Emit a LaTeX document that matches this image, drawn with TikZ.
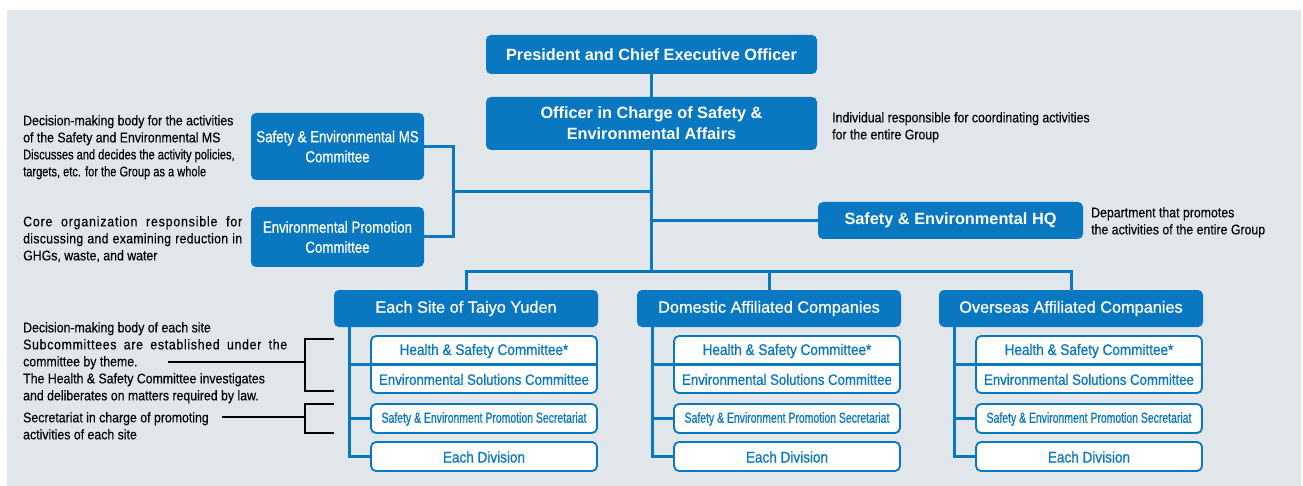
\documentclass[tikz,border=0pt]{standalone}
\usepackage{fontspec}
\setmainfont{Liberation Sans}
\newfontfamily\annA{Liberation Sans}[FakeStretch=0.88,FakeBold=0.3]
\newfontfamily\annB{Liberation Sans}[FakeStretch=0.79,FakeBold=0.3]
\newfontfamily\subA{Liberation Sans}[FakeStretch=0.88,FakeBold=0.8]
\newfontfamily\subB{Liberation Sans}[FakeStretch=0.72,FakeBold=0.8]
\newfontfamily\lboxf{Liberation Sans}[FakeStretch=0.83,FakeBold=0.7]
\newfontfamily\headf{Liberation Sans}[FakeBold=0.8]
\definecolor{tyblue}{HTML}{0A77C1}
\definecolor{bggray}{HTML}{E1E6EA}
\tikzset{
  bluebox/.style={fill=tyblue, rounded corners=5pt, text=white, inner sep=0pt, align=center},
  titlebox/.style={bluebox, font=\bfseries\fontsize{16.3}{21}\selectfont},
  colhead/.style={bluebox, font=\headf\fontsize{16.3}{20}\selectfont},
  leftbox/.style={bluebox, font=\lboxf\fontsize{16}{20}\selectfont},
  subbox/.style={draw=tyblue, line width=1.8pt, fill=white, rounded corners=5pt, inner sep=0pt, minimum width=226pt},
  subtext/.style={text=tyblue, inner sep=0pt, font=\subA\fontsize{15.4}{18}\selectfont},
  conn/.style={draw=tyblue, line width=3pt},
  spine/.style={draw=tyblue, line width=2.4pt},
  brk/.style={draw=black, line width=1.1pt},
  annot/.style={inner sep=0pt, align=left, anchor=north west, text=black, font=\annA\fontsize{14}{17}\selectfont}
}
\begin{document}
\begin{tikzpicture}[x=1pt,y=-1pt]
\useasboundingbox (0,0) rectangle (1303,486);
\fill[bggray] (7,10) rectangle (1301,486);

% main boxes
\node[titlebox, minimum width=331pt, minimum height=39pt] (pres) at (651.5,54.5) {President and Chief Executive Officer};
\node[titlebox, minimum width=331pt, minimum height=53pt] (off) at (651.5,123.5) {Officer in Charge of Safety \&\\Environmental Affairs};
\node[leftbox, minimum width=173pt, minimum height=67pt] (sems) at (337.5,146.5) {Safety \& Environmental MS\\Committee};
\node[leftbox, minimum width=173pt, minimum height=60pt] (epc) at (337.5,237) {Environmental Promotion\\Committee};
\node[titlebox, minimum width=265pt, minimum height=37pt] (hq) at (950.5,220.5) {Safety \& Environmental HQ};
\node[colhead, minimum width=264pt, minimum height=37pt] (site) at (466,308.5) {Each Site of Taiyo Yuden};
\node[colhead, minimum width=264pt, minimum height=37pt] (dom) at (769,308.5) {Domestic Affiliated Companies};
\node[colhead, minimum width=264pt, minimum height=37pt] (ovs) at (1071,308.5) {Overseas Affiliated Companies};

% main connectors
\coordinate (bar) at (652,272);
\coordinate (lj) at (453,192);
\draw[conn] (pres.south) -- (off.north);
\draw[conn] (off.south) -- (off.south |- bar);
\draw[conn] (lj) -- (lj -| off.south);
\draw[conn] (sems.east) -- (sems.east -| lj) -- (epc.east -| lj) -- (epc.east);
\draw[conn] (hq.west) -- (hq.west -| off.south);
\draw[conn] (site.north) -- (site.north |- bar) -- (ovs.north |- bar) -- (ovs.north);
\draw[conn] (dom.north) -- (dom.north |- bar);

% sub boxes of each column
\foreach \n/\cx in {site/466, dom/769, ovs/1071}{
  \node[subbox, minimum height=57pt] (hs-\n) at (\cx+18,364.5) {};
  \node[subtext] (hst-\n) at (\cx+18,351) {Health \& Safety Committee*};
  \node[subtext, font=\subA\fontsize{15}{18}\selectfont] (est-\n) at (\cx+18,379.5) {Environmental Solutions Committee};
  \node[subbox, minimum height=29pt] (seps-\n) at (\cx+18,418.5) {};
  \node[subtext, font=\subB\fontsize{14.5}{18}\selectfont] (sepst-\n) at (\cx+18,419) {Safety \& Environment Promotion Secretariat};
  \node[subbox, minimum height=29pt] (ed-\n) at (\cx+18,456.5) {};
  \node[subtext] (edt-\n) at (\cx+18,457) {Each Division};
  \coordinate (sp-\n) at (\cx-116.5,327);
  \draw[spine] (sp-\n) |- (ed-\n.west);
  \draw[spine] (sp-\n |- hs-\n.west) -- (hs-\n.east);
  \draw[spine] (sp-\n |- seps-\n.west) -- (seps-\n.west);
}

% annotations
\node[annot] (a1) at (23,115) {Decision-making body for the activities\\
of the Safety and Environmental MS\\
{\annB Discusses and decides the activity policies,}\\
{\annB targets, etc. for the Group as a whole}};
\node[annot] (a2) at (23,216) {\makebox[219pt][s]{\addfontfeatures{LetterSpace=6}Core organization responsible for}\\
\makebox[219pt][s]{\addfontfeatures{LetterSpace=2}discussing and examining reduction in}\\
GHGs, waste, and water};
\node[annot] (a0) at (832,112) {Individual responsible for coordinating activities\\for the entire Group};
\node[annot] (ahq) at (1091,207) {Department that promotes\\the activities of the entire Group};
\node[annot] (a3) at (23,322) {Decision-making body of each site\\
\makebox[264pt][s]{\addfontfeatures{LetterSpace=5}Subcommittees are established under the}\\
committee by theme.\\
The Health \& Safety Committee investigates\\
and deliberates on matters required by law.};
\node[annot] (a4) at (23,412) {Secretariat in charge of promoting\\activities of each site};

% black brackets
\coordinate (b1t) at (334,339);
\coordinate (b1b) at (334,391);
\coordinate (b1p) at (168,362);
\coordinate (b2t) at (334,404);
\coordinate (b2b) at (334,433);
\coordinate (b2p) at (222,417);
\draw[brk] (b1t) -- (305,339) -- (305,391) -- (b1b);
\draw[brk] (b1p) -- (b1p -| 305,0);
\draw[brk] (b2t) -- (305,404) -- (305,433) -- (b2b);
\draw[brk] (b2p) -- (b2p -| 305,0);
\end{tikzpicture}
\end{document}
